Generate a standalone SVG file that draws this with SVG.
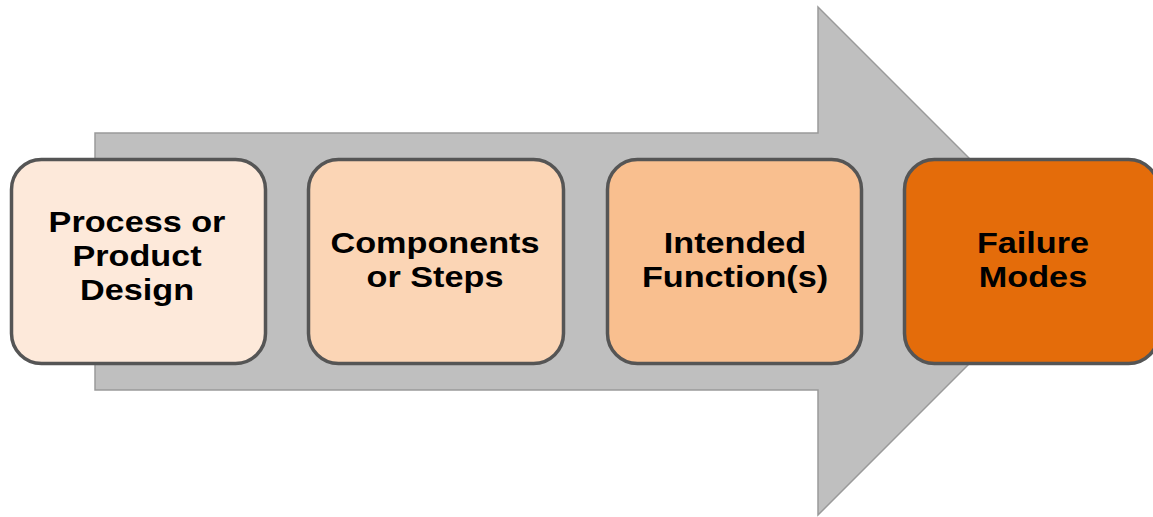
<svg xmlns="http://www.w3.org/2000/svg" width="1153" height="517" viewBox="0 0 1153 517">
  <style>
    .box { stroke: #555555; stroke-width: 3.5; }
    .lbl { font-family: "Liberation Sans", Arial, sans-serif; font-weight: bold; font-size: 29.5px; fill: #000000; text-anchor: middle; }
  </style>
  <rect width="1153" height="517" fill="#ffffff"/>

  <!-- big background arrow -->
  <g id="connectors">
    <polygon points="95,133 818,133 818,7 1072,261 818,515 818,390 95,390" fill="#bfbfbf" stroke="#9a9a9a" stroke-width="1.5"/>
  </g>

  <g id="node-design">
    <rect class="box" x="11.5" y="159.5" width="254" height="204" rx="30" fill="#fde9da"/>
    <g transform="translate(137 0) scale(1.16 1)">
      <text class="lbl" x="0" y="232">Process or</text>
      <text class="lbl" x="0" y="266">Product</text>
      <text class="lbl" x="0" y="300">Design</text>
    </g>
  </g>

  <g id="node-components">
    <rect class="box" x="308.5" y="159.5" width="255" height="204" rx="30" fill="#fbd5b5"/>
    <g transform="translate(435 0) scale(1.16 1)">
      <text class="lbl" x="0" y="253">Components</text>
      <text class="lbl" x="0" y="287">or Steps</text>
    </g>
  </g>

  <g id="node-function">
    <rect class="box" x="607.5" y="159.5" width="254" height="204" rx="30" fill="#f9bf8f"/>
    <g transform="translate(735 0) scale(1.16 1)">
      <text class="lbl" x="0" y="253">Intended</text>
      <text class="lbl" x="0" y="287">Function(s)</text>
    </g>
  </g>

  <g id="node-failure">
    <rect class="box" x="904.5" y="159.5" width="254" height="204" rx="30" fill="#e46c0a"/>
    <g transform="translate(1033 0) scale(1.16 1)">
      <text class="lbl" x="0" y="253">Failure</text>
      <text class="lbl" x="0" y="287">Modes</text>
    </g>
  </g>
</svg>
